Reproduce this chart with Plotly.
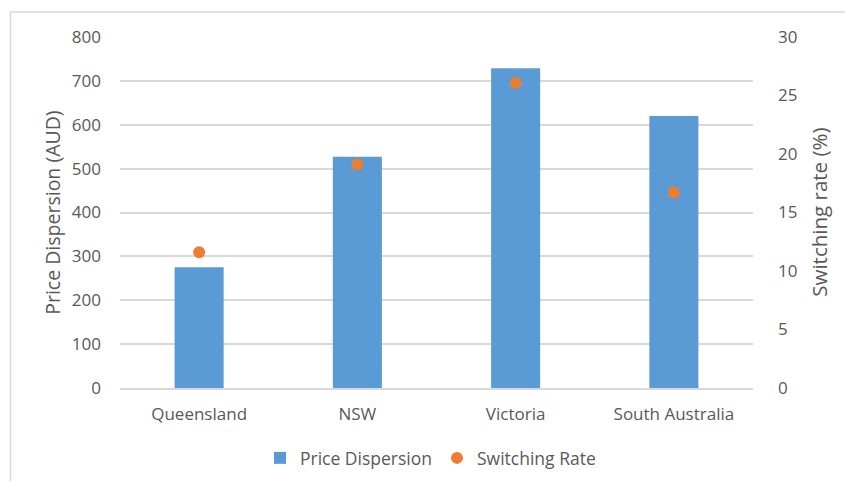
import plotly.graph_objects as go

regions = ["Queensland", "NSW", "Victoria", "South Australia"]
price_dispersion = [275, 527, 729, 620]
switching_rate = [11.6, 19.1, 26.1, 16.7]
left_ticks = [0, 100, 200, 300, 400, 500, 600, 700, 800]
right_ticks = [0, 5, 10, 15, 20, 25, 30]

FONT = "Open Sans"
TXT = "#595959"
GRID = "#d9d9d9"

fig = go.Figure()
fig.add_trace(go.Bar(
    x=regions, y=price_dispersion, name="Price Dispersion",
    marker=dict(color="#5B9BD5", line=dict(width=0)), width=0.31,
))
fig.add_trace(go.Scatter(
    x=regions, y=switching_rate, name="Switching Rate", mode="markers",
    marker=dict(color="#ED7D31", size=12, line=dict(width=0)), yaxis="y2",
))

fig.update_layout(
    width=845, height=481,
    margin=dict(l=120, r=92, t=37, b=93),
    paper_bgcolor="white", plot_bgcolor="white",
    font=dict(family=FONT, size=17, color=TXT),
    showlegend=True,
    legend=dict(orientation="h", x=0.5 + 8 / 845, xref="container", xanchor="center",
                y=1 - 458 / 481, yref="container", yanchor="middle",
                font=dict(size=17.5, color=TXT), itemwidth=30, traceorder="normal"),
    xaxis=dict(showgrid=False, showline=True, linecolor=GRID, linewidth=1.5,
               ticks="", tickfont=dict(size=17, color=TXT), ticklabelstandoff=10,
               automargin=False),
    yaxis=dict(range=[0, 800], tickvals=left_ticks, showgrid=True, gridcolor=GRID,
               gridwidth=1.5, zeroline=False, showline=False, ticks="",
               tickfont=dict(size=17, color=TXT), ticklabelstandoff=18,
               automargin=False),
    yaxis2=dict(range=[0, 30], tickvals=right_ticks, overlaying="y", side="right",
                showgrid=False, zeroline=False, showline=False, ticks="",
                tickfont=dict(size=17, color=TXT), ticklabelstandoff=24,
                automargin=False),
    annotations=[
        dict(text="Price Dispersion (AUD)", xref="paper", yref="paper",
             x=-0.107, y=0.5, textangle=-90, showarrow=False,
             xanchor="center", yanchor="middle", font=dict(size=19.5, color=TXT)),
        dict(text="Switching rate (%)", xref="paper", yref="paper",
             x=1.103, y=0.5, textangle=-90, showarrow=False,
             xanchor="center", yanchor="middle", font=dict(size=20.5, color=TXT)),
    ],
    shapes=[
        dict(type="rect", xref="paper", yref="paper", x0=-0.173, x1=1.2,
             y0=-0.5, y1=1.071, line=dict(color=GRID, width=1.5), layer="below"),
    ],
)

fig.write_html("out.html")
